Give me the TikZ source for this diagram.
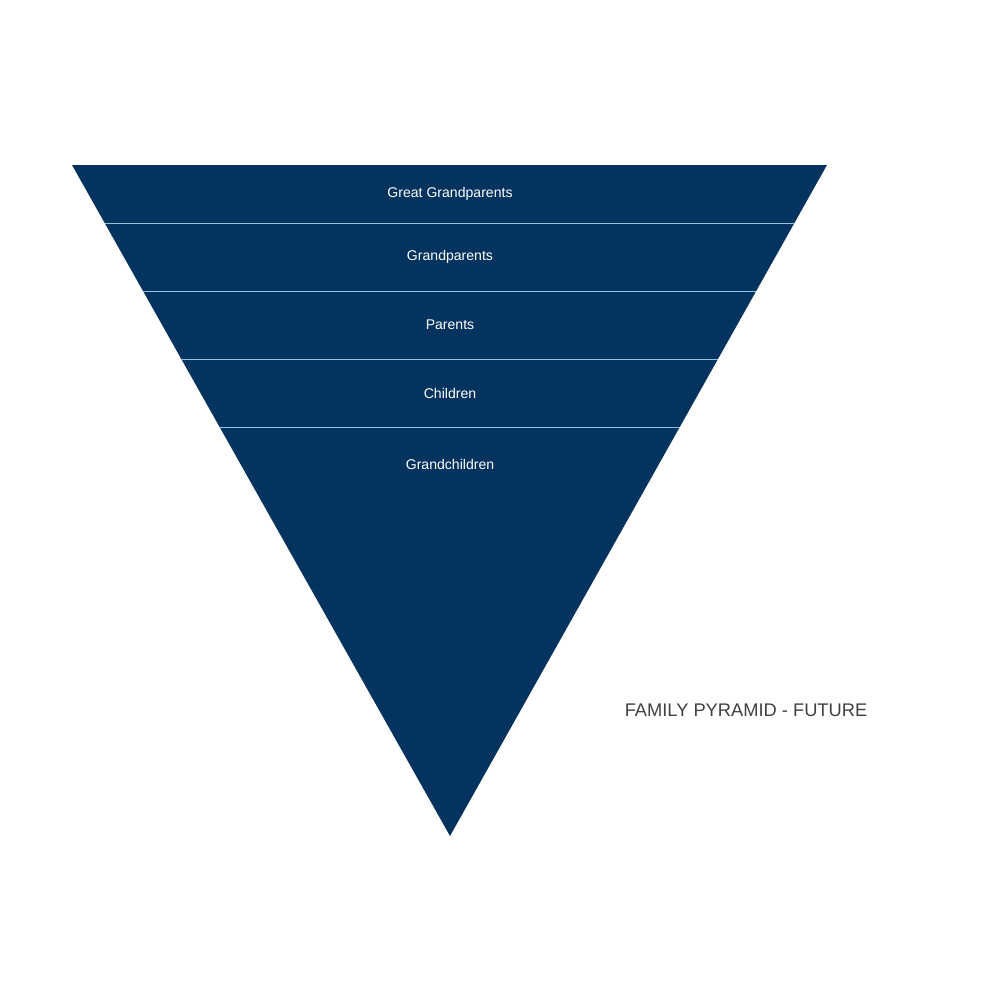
\documentclass[tikz,border=0pt]{standalone}
\usepackage{fontspec}
\setmainfont{Liberation Sans}
\usetikzlibrary{calc}
\definecolor{navy}{HTML}{03335E}
\definecolor{sep}{HTML}{8FC3DD}
\definecolor{titlegray}{HTML}{404040}
\tikzset{lbl/.style={text=white,font=\fontsize{4}{5}\selectfont},
 sepline/.style={draw=sep,line width=0.25pt}}
\begin{document}
\begin{tikzpicture}[x=0.01cm,y=-0.01cm]
\useasboundingbox (0,0) rectangle (1000,1000);
\coordinate (A) at (72,165);
\coordinate (B) at (827,165);
\coordinate (C) at (450,836);
\fill[navy] (A) -- (B) -- (C) -- cycle;
\foreach \t/\n in {0.0864/1,0.1878/2,0.2891/3,0.3905/4}{
  \draw[sepline] ($(A)!\t!(C)$) -- ($(B)!\t!(C)$);
}
\node[lbl] (l1) at (450,194) {Great Grandparents};
\node[lbl] (l2) at (450,257) {Grandparents};
\node[lbl] (l3) at (450,325) {Parents};
\node[lbl] (l4) at (450,393) {Children};
\node[lbl] (l5) at (450,464) {Grandchildren};
\node[text=titlegray,font=\fontsize{5.2}{6}\selectfont] (title) at (746,710) {FAMILY PYRAMID - FUTURE};
\end{tikzpicture}
\end{document}
